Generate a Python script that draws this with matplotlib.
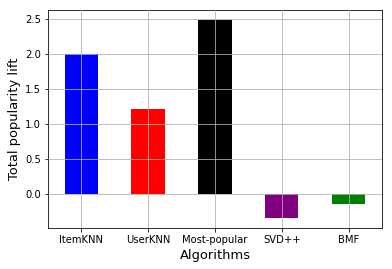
import matplotlib
matplotlib.use('Agg')
import matplotlib.pyplot as plt

# data
algorithms = ['ItemKNN', 'UserKNN', 'Most-popular', 'SVD++', 'BMF']
lift = [2.0, 1.22, 2.49, -0.34, -0.135]
colors = ['blue', 'red', 'black', 'purple', 'green']

fig = plt.figure(figsize=(392 / 72, 269 / 72), dpi=72)
ax = fig.add_axes([0.1224, 0.1524, 0.852, 0.8104])

x = range(len(algorithms))
ax.bar(x, lift, width=0.5, color=colors, zorder=1)
ax.set_xticks(list(x))
ax.set_xticklabels(algorithms, fontsize=10)
ax.tick_params(axis='y', labelsize=10)
ax.set_xlim(-0.5, len(algorithms) - 0.5)
ax.grid(True)
ax.set_axisbelow(False)
ax.set_xlabel('Algorithms', fontsize=13)
ax.set_ylabel('Total popularity lift', fontsize=13)

fig.savefig('out.png', dpi=72)
